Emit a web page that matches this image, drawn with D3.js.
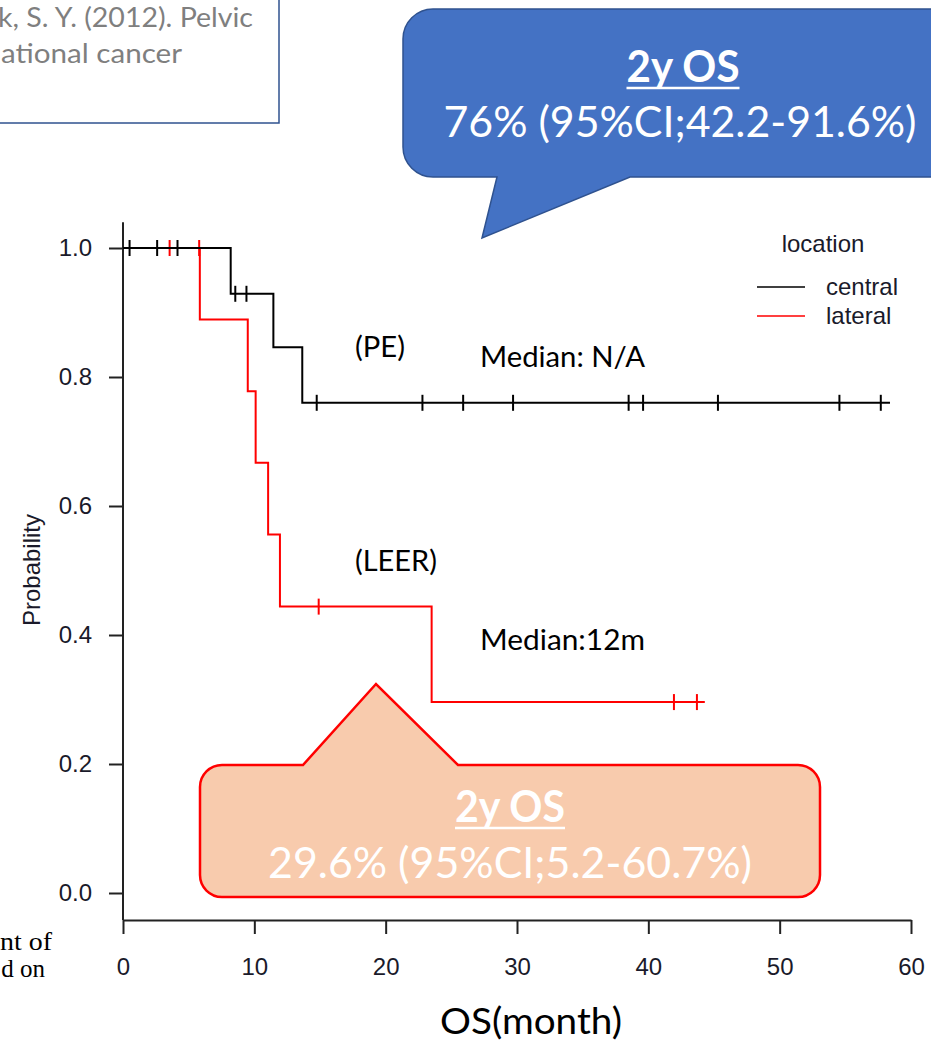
<!DOCTYPE html>
<html>
<head>
<meta charset="utf-8">
<script src="https://cdn.jsdelivr.net/npm/d3@7"></script>
<style>
  body { margin: 0; background: #fff; }
  svg { display: block; }
</style>
</head>
<body>
<div id="chart"></div>
<script>
var svgWidth = 931;
var svgHeight = 1042;

// Kaplan-Meier steps
var centralTimes = [0, 8.2, 11.45, 13.65];
var centralSurv = [1, 0.929, 0.846, 0.76];
var centralEnd = 58.4;
var centralCensor = [0.5, 2.6, 4.15, 8.55, 9.4, 14.75, 22.8, 25.9, 29.7, 38.5, 39.6, 45.3, 54.55, 57.7];

var lateralTimes = [0, 5.85, 9.5, 10.1, 11.05, 11.95, 23.5];
var lateralSurv = [1, 0.889, 0.778, 0.667, 0.556, 0.444, 0.296];
var lateralEnd = 44.3;
var lateralCensor = [3.55, 5.8, 14.9, 41.95, 43.7];

var xTicks = [0, 10, 20, 30, 40, 50, 60];
var yTicks = [0, 0.2, 0.4, 0.6, 0.8, 1.0];

var legendTitle = "location";
var groups = ["central", "lateral"];
var groupColors = ["#000000", "#ff0000"];

var officeFont = "Lato, 'Open Sans', sans-serif";
var rFont = "'Liberation Sans', Arial, sans-serif";

var svg = d3.select("#chart")
  .append("svg")
  .attr("width", svgWidth)
  .attr("height", svgHeight);

// scales
var x = d3.scaleLinear().domain([0, 60]).range([123, 911]);
var y = d3.scaleLinear().domain([0, 1]).range([893, 248]);
var axisY = 920;

// axes
var xAxis = svg.append("g")
  .attr("transform", `translate(0, ${axisY})`)
  .call(d3.axisBottom(x).tickValues(xTicks).tickSize(14).tickSizeOuter(0).tickPadding(24));

var yAxis = svg.append("g")
  .attr("transform", `translate(${x(0)}, 0)`)
  .call(d3.axisLeft(y).tickValues(yTicks).tickFormat(d3.format(".1f")).tickSize(14).tickSizeOuter(0).tickPadding(17));
yAxis.select(".domain").remove();

svg.append("line")
  .attr("x1", x(0)).attr("x2", x(0))
  .attr("y1", y(1.04)).attr("y2", axisY)
  .attr("stroke", "#222").attr("stroke-width", 2);

[xAxis, yAxis].forEach(function(a) {
  a.selectAll("path, line").attr("stroke", "#222").attr("stroke-width", 2);
  a.selectAll("text")
    .attr("font-family", rFont)
    .attr("font-size", 24)
    .attr("fill", "#1a1a2a");
});

svg.append("text")
  .attr("transform", `translate(40, 570) rotate(-90)`)
  .attr("text-anchor", "middle")
  .attr("font-family", rFont)
  .attr("font-size", 24)
  .attr("fill", "#1a1a2a")
  .text("Probability");

// step curves
function stepPoints(times, surv, end) {
  var pts = times.map((t, i) => [t, surv[i]]);
  pts.push([end, surv[surv.length - 1]]);
  return pts;
}
function levelAt(times, surv, t) {
  var i = d3.bisectRight(times, t) - 1;
  return surv[Math.max(0, i)];
}

var line = d3.line()
  .x(d => x(d[0]))
  .y(d => y(d[1]))
  .curve(d3.curveStepAfter);

var curves = [
  { times: lateralTimes, surv: lateralSurv, end: lateralEnd, censor: lateralCensor, color: groupColors[1] },
  { times: centralTimes, surv: centralSurv, end: centralEnd, censor: centralCensor, color: groupColors[0] }
];

curves.forEach(function(c) {
  svg.append("path")
    .datum(stepPoints(c.times, c.surv, c.end))
    .attr("d", line)
    .attr("fill", "none")
    .attr("stroke", c.color)
    .attr("stroke-width", 2);

  svg.selectAll(null)
    .data(c.censor)
    .enter()
    .append("line")
    .attr("x1", d => x(d)).attr("x2", d => x(d))
    .attr("y1", d => y(levelAt(c.times, c.surv, d)) - 8)
    .attr("y2", d => y(levelAt(c.times, c.surv, d)) + 8)
    .attr("stroke", c.color)
    .attr("stroke-width", 2);
});

// legend
svg.append("text")
  .attr("x", 823).attr("y", 252)
  .attr("text-anchor", "middle")
  .attr("font-family", rFont).attr("font-size", 24)
  .attr("fill", "#1a1a2a")
  .text(legendTitle);

groups.forEach(function(g, i) {
  var ly = 287 + i * 29;
  svg.append("line")
    .attr("x1", 757).attr("x2", 805)
    .attr("y1", ly).attr("y2", ly)
    .attr("stroke", groupColors[i]).attr("stroke-width", 1.5);
  svg.append("text")
    .attr("x", 826).attr("y", ly + 8)
    .attr("font-family", rFont).attr("font-size", 24)
    .attr("fill", "#1a1a2a")
    .text(g);
});

// annotation text (office style)
function officeText(txt, x0, yb, size, width, opts) {
  opts = opts || {};
  var t = svg.append("text")
    .attr("x", x0).attr("y", yb)
    .attr("font-family", officeFont)
    .attr("font-size", size)
    .attr("fill", opts.fill || "#000")
    .attr("font-weight", opts.bold ? "bold" : "normal")
    .attr("text-anchor", opts.anchor || "start")
    .text(txt);
  if (width) t.attr("textLength", width).attr("lengthAdjust", "spacingAndGlyphs");
  return t;
}

officeText("(PE)", 355, 357, 28, 50);
officeText("Median: N/A", 480, 367, 28, 165);
officeText("(LEER)", 355, 571, 28, 82);
officeText("Median:12m", 480, 650, 28, 165);
officeText("OS(month)", 440, 1034, 36, 182);

// callout shapes
function calloutPath(x0, y0, x1, y1, r, tail) {
  // tail on bottom edge: [baseRight, tipX, tipY, baseLeft]
  var p = d3.path();
  p.moveTo(x0 + r, y0);
  p.lineTo(x1 - r, y0);
  p.arcTo(x1, y0, x1, y0 + r, r);
  p.lineTo(x1, y1 - r);
  p.arcTo(x1, y1, x1 - r, y1, r);
  p.lineTo(tail[0], y1);
  p.lineTo(tail[1], tail[2]);
  p.lineTo(tail[3], y1);
  p.lineTo(x0 + r, y1);
  p.arcTo(x0, y1, x0, y1 - r, r);
  p.lineTo(x0, y0 + r);
  p.arcTo(x0, y0, x0 + r, y0, r);
  p.closePath();
  return p.toString();
}
function calloutPathTop(x0, y0, x1, y1, r, tail) {
  // tail on top edge: [baseLeft, tipX, tipY, baseRight]
  var p = d3.path();
  p.moveTo(x0 + r, y0);
  p.lineTo(tail[0], y0);
  p.lineTo(tail[1], tail[2]);
  p.lineTo(tail[3], y0);
  p.lineTo(x1 - r, y0);
  p.arcTo(x1, y0, x1, y0 + r, r);
  p.lineTo(x1, y1 - r);
  p.arcTo(x1, y1, x1 - r, y1, r);
  p.lineTo(x0 + r, y1);
  p.arcTo(x0, y1, x0, y1 - r, r);
  p.lineTo(x0, y0 + r);
  p.arcTo(x0, y0, x0 + r, y0, r);
  p.closePath();
  return p.toString();
}

function underlinedTitle(txt, cx, yb, size, width, color) {
  var t = officeText(txt, cx, yb, size, width, { fill: color, bold: true, anchor: "middle" });
  svg.append("line")
    .attr("x1", cx - width / 2).attr("x2", cx + width / 2)
    .attr("y1", yb + 6).attr("y2", yb + 6)
    .attr("stroke", color).attr("stroke-width", 2.5);
  return t;
}

// blue callout (central)
svg.append("path")
  .attr("d", calloutPath(403, 9, 960, 177, 30, [630, 482, 238, 497]))
  .attr("fill", "#4472c4")
  .attr("stroke", "#2f528f")
  .attr("stroke-width", 1.5);
underlinedTitle("2y OS", 683, 82, 43, 113, "#ffffff");
officeText("76% (95%CI;42.2-91.6%)", 680, 137, 43, 473, { fill: "#ffffff", anchor: "middle" });

// orange callout (lateral)
svg.append("path")
  .attr("d", calloutPathTop(200, 765, 820, 897, 22, [303, 376, 684, 458]))
  .attr("fill", "#f8cbad")
  .attr("stroke", "#ff0000")
  .attr("stroke-width", 2.5);
underlinedTitle("2y OS", 510, 822, 43, 110, "#ffffff");
officeText("29.6% (95%CI;5.2-60.7%)", 510, 878, 43, 484, { fill: "#ffffff", anchor: "middle" });

// reference box, top left
svg.append("rect")
  .attr("x", -10).attr("y", -10)
  .attr("width", 289).attr("height", 133)
  .attr("fill", "#fff")
  .attr("stroke", "#2f528f")
  .attr("stroke-width", 1.5);
officeText("k, S. Y. (2012). Pelvic", 253, 27, 27, 255, { fill: "#7f7f7f", anchor: "end" });
officeText("ational cancer", 182, 63, 27, 181, { fill: "#7f7f7f", anchor: "end" });

// cut-off body text, bottom left
svg.append("text")
  .attr("x", 52).attr("y", 950)
  .attr("text-anchor", "end")
  .attr("font-family", "'Liberation Serif', 'Times New Roman', serif")
  .attr("font-size", 25)
  .attr("textLength", 52).attr("lengthAdjust", "spacingAndGlyphs")
  .text("nt of");
svg.append("text")
  .attr("x", 45).attr("y", 977)
  .attr("text-anchor", "end")
  .attr("font-family", "'Liberation Serif', 'Times New Roman', serif")
  .attr("font-size", 25)
  .text("d on");
</script>
</body>
</html>
